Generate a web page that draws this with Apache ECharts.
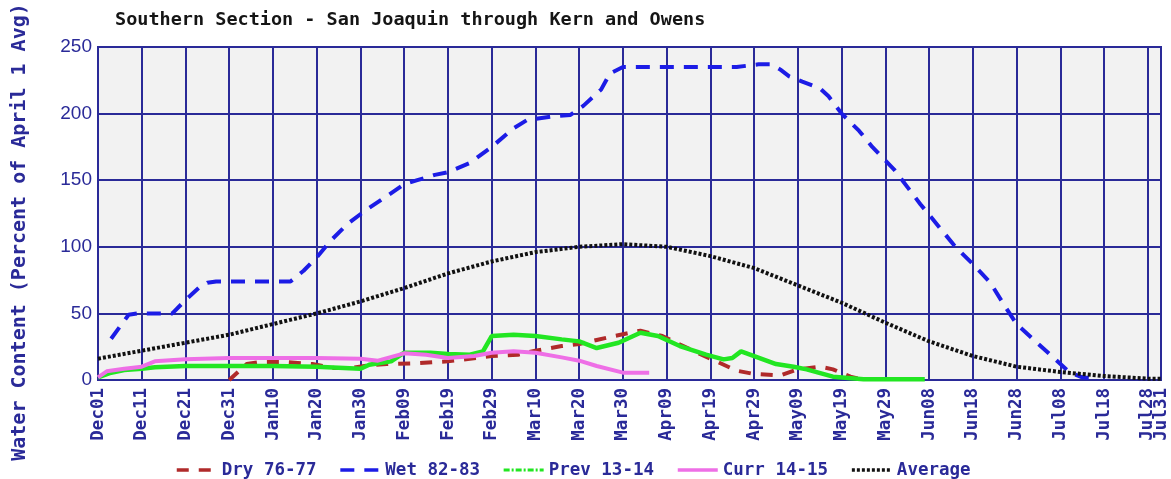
<!DOCTYPE html>
<html lang="en">
<head>
    <meta charset="UTF-8">
    <title>Southern Section snow water content</title>
    <script src="https://cdn.jsdelivr.net/npm/echarts@6/dist/echarts.min.js"></script>
</head>
<body style="margin:0;background:#fff;">
<div id="chart" style="width: 1171px;height:479px;"></div>
<script>
    // season runs Dec01 .. Jul31 (leap-year calendar, Feb has 29 days)
    let months = ['Dec', 'Jan', 'Feb', 'Mar', 'Apr', 'May', 'Jun', 'Jul'];
    let monthDays = [31, 31, 29, 31, 30, 31, 30, 31];

    // [day index from Dec01, percent of April 1 average]
    let dry7677 = [[30, 0], [32, 6], [34, 12], [37, 13.5], [43, 13.5], [49, 12], [54, 9], [58, 9], [62, 11], [66, 12],
        [72, 12.5], [80, 14], [85, 16], [90, 18], [96, 19], [100, 22], [106, 25.5], [110, 27], [114, 30], [118, 33],
        [124, 37], [129, 33], [136, 22], [140, 16], [146, 7], [150, 4.5], [156, 3.5], [160, 8], [165, 10], [168, 8],
        [172, 2.5], [175, 0]];
    let wet8283 = [[3, 31], [5, 40], [7, 49], [9, 50], [17, 50], [20, 60], [23, 69], [25, 73], [27, 74], [44, 74],
        [47, 82], [50, 92], [53, 104], [57, 117], [61, 127], [66, 138], [70, 147], [73, 150], [77, 154], [80, 156],
        [85, 163], [90, 175], [95, 189], [98, 195], [104, 198], [108, 199], [111, 206], [115, 218], [117, 230],
        [120, 235], [146, 235], [151, 237], [154, 237], [156, 233], [158, 228], [161, 224], [165, 219], [167, 213],
        [170, 200], [174, 187], [177, 175], [182, 158], [185, 145], [188, 132], [193, 112], [196, 100], [200, 87],
        [204, 73], [207, 57], [210, 42], [214, 30], [218, 18], [222, 6], [225, 2], [228, 1]];
    let prev1314 = [[0, 2], [3, 5.5], [6, 7.5], [10, 8.5], [13, 9.5], [20, 10.5], [40, 10.5], [50, 10], [60, 8.5],
        [62, 11.5], [67, 14], [70, 20.5], [76, 20.5], [80, 19.5], [85, 19], [88, 21.5], [90, 33], [95, 34], [100, 33],
        [106, 30.5], [110, 29], [114, 24], [119, 28], [124, 35.5], [128, 33], [133, 25.5], [139, 19], [143, 15.5],
        [145, 16.5], [147, 21.5], [150, 18], [155, 12], [159, 10], [162, 8], [168, 2.5], [175, 0.5], [189, 0.5]];
    let curr1415 = [[0, 2], [2, 6.5], [6, 8.5], [10, 10], [13, 14], [20, 15.5], [30, 16.5], [50, 16.5], [60, 16],
        [64, 14.5], [70, 20], [75, 19], [80, 16.5], [86, 18], [90, 20.5], [95, 21.5], [100, 20.5], [106, 17],
        [110, 14.5], [114, 10.5], [120, 5.5], [126, 5.5]];
    let average = [[0, 16], [10, 22], [20, 28], [30, 34], [40, 42], [50, 50], [60, 59], [70, 69], [80, 80], [90, 89],
        [100, 96], [110, 100], [120, 102], [130, 100], [140, 93], [150, 84], [160, 71], [170, 58], [180, 43],
        [190, 29], [200, 18], [210, 10], [220, 6], [230, 3], [240, 1], [243, 1]];

    let days = [];
    for (let m = 0; m < months.length; m++) {
        for (let d = 1; d <= monthDays[m]; d++) {
            days.push(months[m] + (d < 10 ? '0' + d : '' + d));
        }
    }
    let lastDay = days.length - 1;
    function isTick(i) {
        return i % 10 === 0 || i === lastDay;
    }

    let navy = '#2a2a98';
    let mono = '"DejaVu Sans Mono", monospace';
    let tickFont = {fontFamily: mono, fontWeight: 'bold', fontSize: 17.5, color: navy};

    let chart = echarts.init(document.getElementById('chart'));

    let option = {
        animation: false,
        backgroundColor: '#fff',
        title: {
            text: 'Southern Section - San Joaquin through Kern and Owens',
            left: 110,
            top: 6,
            textStyle: {fontFamily: mono, fontWeight: 'bold', fontSize: 18.5, color: '#151515'}
        },
        graphic: [{
            type: 'text',
            x: 20,
            y: 232,
            rotation: Math.PI / 2,
            style: {
                text: 'Water Content (Percent of April 1 Avg)',
                fontFamily: mono,
                fontWeight: 'bold',
                fontSize: 20,
                fill: navy,
                align: 'center',
                verticalAlign: 'middle'
            }
        }],
        legend: {
            left: 170,
            top: 456,
            itemWidth: 40,
            itemHeight: 14,
            itemGap: 22,
            itemStyle: {color: 'transparent', borderColor: 'transparent', borderWidth: 0},
            lineStyle: {width: 3.5},
            textStyle: {fontFamily: mono, fontWeight: 'bold', fontSize: 17.5, color: navy},
            data: [
                {name: 'Dry 76-77'},
                {name: 'Wet 82-83'},
                {name: 'Prev 13-14', lineStyle: {type: [6, 2, 2, 2], width: 3}},
                {name: 'Curr 14-15'},
                {name: 'Average'}
            ]
        },
        grid: {
            left: 98,
            right: 10,
            top: 47,
            bottom: 99,
            show: true,
            backgroundColor: '#f2f2f2',
            borderColor: navy,
            borderWidth: 2
        },
        xAxis: [{
            type: 'category',
            data: days,
            boundaryGap: false,
            position: 'bottom',
            axisLine: {lineStyle: {color: navy, width: 2}},
            axisTick: {show: false},
            axisLabel: Object.assign({
                interval: function (i) { return i % 10 === 0; },
                showMinLabel: true,
                showMaxLabel: true,
                rotate: 90,
                margin: 8
            }, tickFont),
            splitLine: {show: true, interval: isTick, lineStyle: {color: navy, width: 2}}
        }, {
            // second bottom axis only carries the crowded Jul31 end label
            type: 'category',
            data: days,
            boundaryGap: false,
            position: 'bottom',
            axisLine: {show: false},
            axisTick: {show: false},
            splitLine: {show: false},
            axisLabel: Object.assign({
                interval: function (i) { return i === lastDay; },
                showMinLabel: false,
                showMaxLabel: true,
                rotate: 90,
                margin: 8
            }, tickFont)
        }],
        yAxis: {
            type: 'value',
            min: 0,
            max: 250,
            interval: 50,
            axisLine: {show: true, lineStyle: {color: navy, width: 2}},
            axisTick: {show: false},
            axisLabel: {fontFamily: '"Liberation Sans", Arial, sans-serif', fontSize: 19, color: navy, margin: 6},
            splitLine: {lineStyle: {color: navy, width: 2}}
        },
        series: [
            {
                name: 'Dry 76-77', type: 'line', data: dry7677, symbol: 'none', z: 3,
                itemStyle: {color: '#b02a2a'},
                lineStyle: {color: '#b02a2a', width: 4, type: [12, 10]}
            },
            {
                name: 'Wet 82-83', type: 'line', data: wet8283, symbol: 'none', z: 3,
                itemStyle: {color: '#1c1ce6'},
                lineStyle: {color: '#1c1ce6', width: 4, type: [14, 10]}
            },
            {
                name: 'Prev 13-14', type: 'line', data: prev1314, symbol: 'none', z: 4,
                itemStyle: {color: '#22e622'},
                lineStyle: {color: '#22e622', width: 4.5}
            },
            {
                name: 'Curr 14-15', type: 'line', data: curr1415, symbol: 'none', z: 4,
                itemStyle: {color: '#ee6fe6'},
                lineStyle: {color: '#ee6fe6', width: 4}
            },
            {
                name: 'Average', type: 'line', data: average, symbol: 'none', z: 5,
                itemStyle: {color: '#111'},
                lineStyle: {color: '#111', width: 4, type: [3, 2]}
            }
        ]
    };

    chart.setOption(option);
</script>
</body>
</html>
